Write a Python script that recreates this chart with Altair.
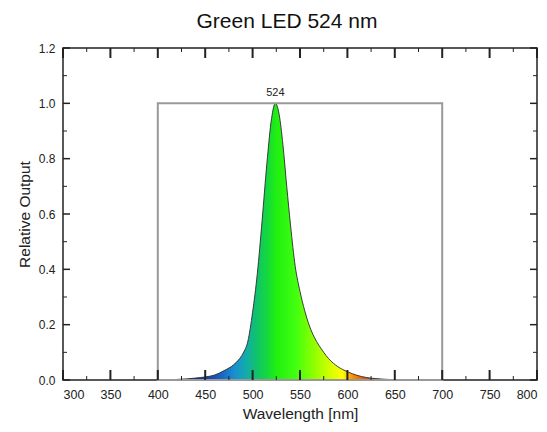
import altair as alt
import pandas as pd

# ---- data ----
wavelengths = [400, 420, 430, 440, 450, 460, 470, 480, 485, 490, 495, 500, 505, 510, 515,
               520, 524, 528, 532, 536, 540, 545, 550, 555, 560, 565, 570, 575, 580, 590,
               600, 610, 620, 630, 640, 650, 660, 700]
output = [0.0, 0.002, 0.004, 0.007, 0.011, 0.018, 0.034, 0.055, 0.072, 0.097, 0.14, 0.245,
          0.385, 0.575, 0.78, 0.945, 1.0, 0.96, 0.85, 0.70, 0.56, 0.41, 0.32, 0.25, 0.195,
          0.155, 0.125, 0.10, 0.078, 0.048, 0.03, 0.017, 0.009, 0.005, 0.0025, 0.001, 0.0, 0.0]

box_x = [400]
box_x2 = [700]
box_top = [1.0]

peak_wl = [524]
peak_val = [1.0]
peak_label = ["524"]

title_text = ["Green LED 524 nm"]

x_major = [300, 350, 400, 450, 500, 550, 600, 650, 700, 750, 800]
x_minor = [325, 375, 425, 475, 525, 575, 625, 675, 725, 775]
y_major = [0.0, 0.2, 0.4, 0.6, 0.8, 1.0, 1.2]
y_minor = [0.1, 0.3, 0.5, 0.7, 0.9, 1.1]

# gradient stops (wavelength, colour)
grad_wl = [400, 440, 460, 480, 492, 503, 515, 525, 545, 565, 585, 595, 605, 625, 650, 700]
grad_col = ["#1a0a80", "#1030a0", "#1850b8", "#1a8cd0", "#12aab0", "#10c070", "#14d840",
            "#20ef10", "#40ff10", "#90ff00", "#e0ff00", "#ffff00", "#ff9000", "#d04000",
            "#a02000", "#600000"]

W, H = 474, 332
FONT = "Liberation Sans"

spec_df = pd.DataFrame({"wl": wavelengths, "out": output})
lo, hi = min(wavelengths), max(wavelengths)
stops = [alt.GradientStop(offset=(w - lo) / (hi - lo), color=c) for w, c in zip(grad_wl, grad_col)]

xscale = alt.Scale(domain=[300, 800], nice=False, zero=False)
yscale = alt.Scale(domain=[0, 1.2], nice=False)

base = alt.Chart(spec_df)

xenc = alt.X("wl:Q", scale=xscale,
             axis=alt.Axis(values=x_major, title="Wavelength [nm]", ticks=False, domain=False,
                           grid=False, labelPadding=8, labelFontSize=12.5, titleFontSize=15.5,
                           titleFontWeight="normal", titlePadding=6, labelFont=FONT,
                           titleFont=FONT, labelColor="#222", titleColor="#222"))
yenc = alt.Y("out:Q", scale=yscale,
             axis=alt.Axis(values=y_major, format=".1f", title="Relative Output", ticks=False,
                           domain=False, grid=False, labelPadding=8, labelFontSize=12,
                           titleFontSize=15.5, titleFontWeight="normal", titlePadding=6,
                           labelFont=FONT, titleFont=FONT, labelColor="#222", titleColor="#222"))

area = base.mark_area(
    interpolate="monotone",
    color=alt.Gradient(gradient="linear", stops=stops, x1=0, x2=1, y1=0, y2=0),
).encode(x=xenc, y=yenc)

line = base.mark_line(interpolate="monotone", color="#2a2a2a", strokeWidth=0.9).encode(
    x="wl:Q", y="out:Q")

box_df = pd.DataFrame({"x": box_x, "x2": box_x2, "y": [0.0], "y2": box_top})
box = alt.Chart(box_df).mark_rect(fillOpacity=0, stroke="#999999", strokeWidth=2).encode(
    x="x:Q", x2="x2:Q", y="y:Q", y2="y2:Q")

peak_df = pd.DataFrame({"wl": peak_wl, "out": peak_val, "label": peak_label})
peak = alt.Chart(peak_df).mark_text(baseline="bottom", dy=-5, fontSize=11, font=FONT,
                                    color="#222").encode(x="wl:Q", y="out:Q", text="label:N")

title_df = pd.DataFrame({"t": title_text})
title = alt.Chart(title_df).mark_text(fontSize=21, font=FONT, color="#111",
                                      baseline="alphabetic", align="center").encode(
    x=alt.value(W / 2 - 13), y=alt.value(-20), text="t:N")

def xticks(vals, length, width):
    d = pd.DataFrame({"v": vals})
    bot = alt.Chart(d).mark_rule(color="#222", strokeWidth=width).encode(
        x="v:Q", y=alt.value(H), y2=alt.value(H - length))
    top = alt.Chart(d).mark_rule(color="#222", strokeWidth=width).encode(
        x="v:Q", y=alt.value(0), y2=alt.value(length))
    return bot + top

def yticks(vals, length, width):
    d = pd.DataFrame({"v": vals})
    left = alt.Chart(d).mark_rule(color="#222", strokeWidth=width).encode(
        y="v:Q", x=alt.value(0), x2=alt.value(length))
    right = alt.Chart(d).mark_rule(color="#222", strokeWidth=width).encode(
        y="v:Q", x=alt.value(W), x2=alt.value(W - length))
    return left + right

chart = alt.layer(
    area, line, box, peak, title,
    xticks(x_major, 10, 2), xticks(x_minor, 4, 1),
    yticks(y_major, 7, 1.5), yticks(y_minor, 4, 1),
).properties(
    width=W, height=H,
    autosize=alt.AutoSizeParams(type="none"),
    padding={"left": 55, "top": 40, "right": 2, "bottom": 44},
).configure_view(stroke="#222", strokeWidth=1.5)

chart.save("out.html", embed_options={"renderer": "svg", "actions": False})
